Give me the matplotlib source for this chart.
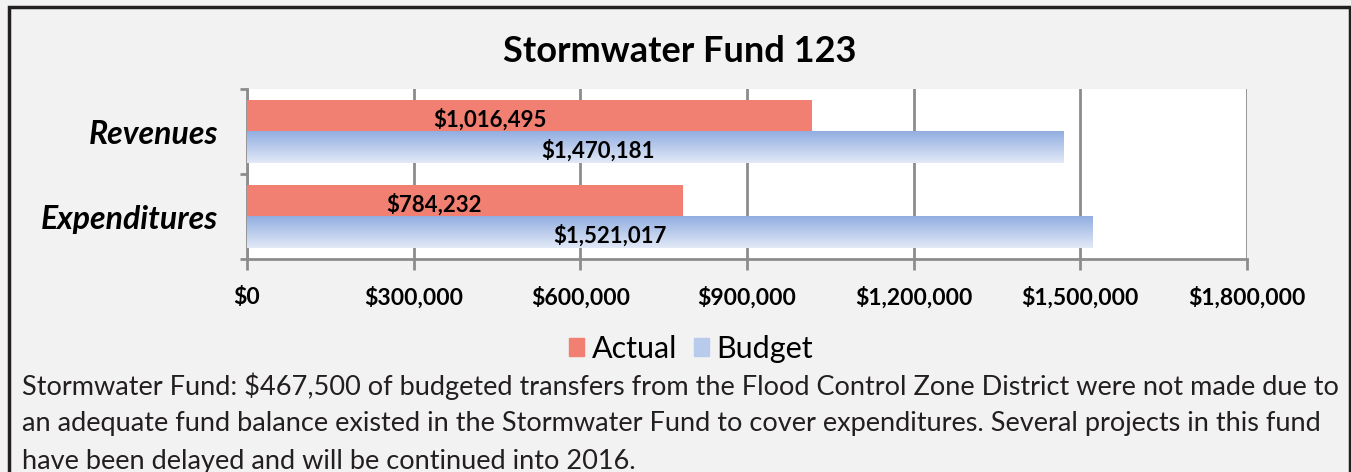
import numpy as np
import matplotlib.pyplot as plt
from matplotlib.patches import Rectangle, Patch
from matplotlib.ticker import FuncFormatter

plt.rcParams['font.family'] = ['Lato', 'DejaVu Sans']
plt.rcParams['text.parse_math'] = False

# data
categories = ['Revenues', 'Expenditures']
actual = [1016495, 784232]
budget = [1470181, 1521017]
series_names = ['Actual', 'Budget']
title = 'Stormwater Fund 123'
note = ('Stormwater Fund: $467,500 of budgeted transfers from the Flood Control Zone District were not made due to\n'
        'an adequate fund balance existed in the Stormwater Fund to cover expenditures. Several projects in this fund\n'
        'have been delayed and will be continued into 2016.')

W, H = 1351, 472
bg = '#f2f2f2'
red = '#f17f72'
blue_top = np.array([0x92, 0xae, 0xe1]) / 255
blue_bot = np.array([0xe2, 0xe9, 0xf7]) / 255
axis_gray = '#8c8c8c'

fig = plt.figure(figsize=(W / 100, H / 100), dpi=100, facecolor=bg)

# outer border (bottom is cut off in the original)
fig.patches.append(Rectangle((8.5 / W, -0.05), (1349.5 - 8.5) / W, 1.05 - 7.5 / H,
                             transform=fig.transFigure, fill=False,
                             edgecolor='#231f20', lw=2.5))

ax = fig.add_axes([247 / W, 1 - 259 / H, 1000 / W, 170 / H])
ax.set_facecolor('white')

y = np.arange(len(categories))
h = 0.37
off = 0.19

bars_a = ax.barh(y - off, actual, height=h, color=red, zorder=3)
bars_b = ax.barh(y + off, budget, height=h, color='none', zorder=3)

# gradient fill for budget bars
grad = np.linspace(blue_top, blue_bot, 64).reshape(64, 1, 3)
for p in bars_b:
    x0, y0, w, hh = p.get_x(), p.get_y(), p.get_width(), p.get_height()
    ax.imshow(grad, extent=[x0, x0 + w, y0 + hh, y0], aspect='auto',
              origin='upper', zorder=3, interpolation='bilinear')

# data labels
for p, v in zip(bars_a, actual):
    ax.text(v * 0.43, p.get_y() + p.get_height() / 2 + 0.05, f'${v:,.0f}',
            ha='center', va='center', fontsize=16, fontweight='bold', zorder=5)
for p, v in zip(bars_b, budget):
    ax.text(v * 0.43, p.get_y() + p.get_height() / 2 + 0.04, f'${v:,.0f}',
            ha='center', va='center', fontsize=16, fontweight='bold', zorder=5)

ax.set_xlim(0, 1800000)
ax.set_ylim(len(categories) - 0.5, -0.5)
ax.set_xticks(np.arange(0, 1800001, 300000))
ax.xaxis.set_major_formatter(FuncFormatter(lambda v, _: f'${v:,.0f}'))
ax.set_yticks(y)
ax.set_yticklabels(categories, fontsize=23, fontweight='bold', fontstyle='italic')
ax.set_yticks(np.arange(-0.5, len(categories)), minor=True)

ax.tick_params(axis='x', length=8, width=2, color=axis_gray, pad=12,
               labelsize=16.5)
for lbl in ax.get_xticklabels():
    lbl.set_fontweight('bold')
ax.tick_params(axis='y', which='major', length=0, pad=21)
ax.tick_params(axis='y', which='minor', length=5, width=2, color=axis_gray)

ax.grid(axis='x', color=axis_gray, lw=2, zorder=1)
ax.set_axisbelow(True)
for s in ['top', 'right']:
    ax.spines[s].set_visible(False)
for s in ['left', 'bottom']:
    ax.spines[s].set_color(axis_gray)
    ax.spines[s].set_linewidth(2)

fig.text(680 / W, 1 - 52 / H, title, ha='center', va='center',
         fontsize=26, fontweight='bold')

handles = [Patch(color=red), Patch(color='#b9cbec')]
fig.legend(handles, series_names, loc='center', bbox_to_anchor=(691 / W, 1 - 349 / H),
           ncol=2, frameon=False, fontsize=22, handlelength=0.5, handleheight=0.5,
           handletextpad=0.25, columnspacing=0.55)

fig.text(22 / W, 1 - 372 / H, note, ha='left', va='top', fontsize=19.5,
         color='#231f20', linespacing=1.6)

fig.savefig('out.png', dpi=100, facecolor=bg)
